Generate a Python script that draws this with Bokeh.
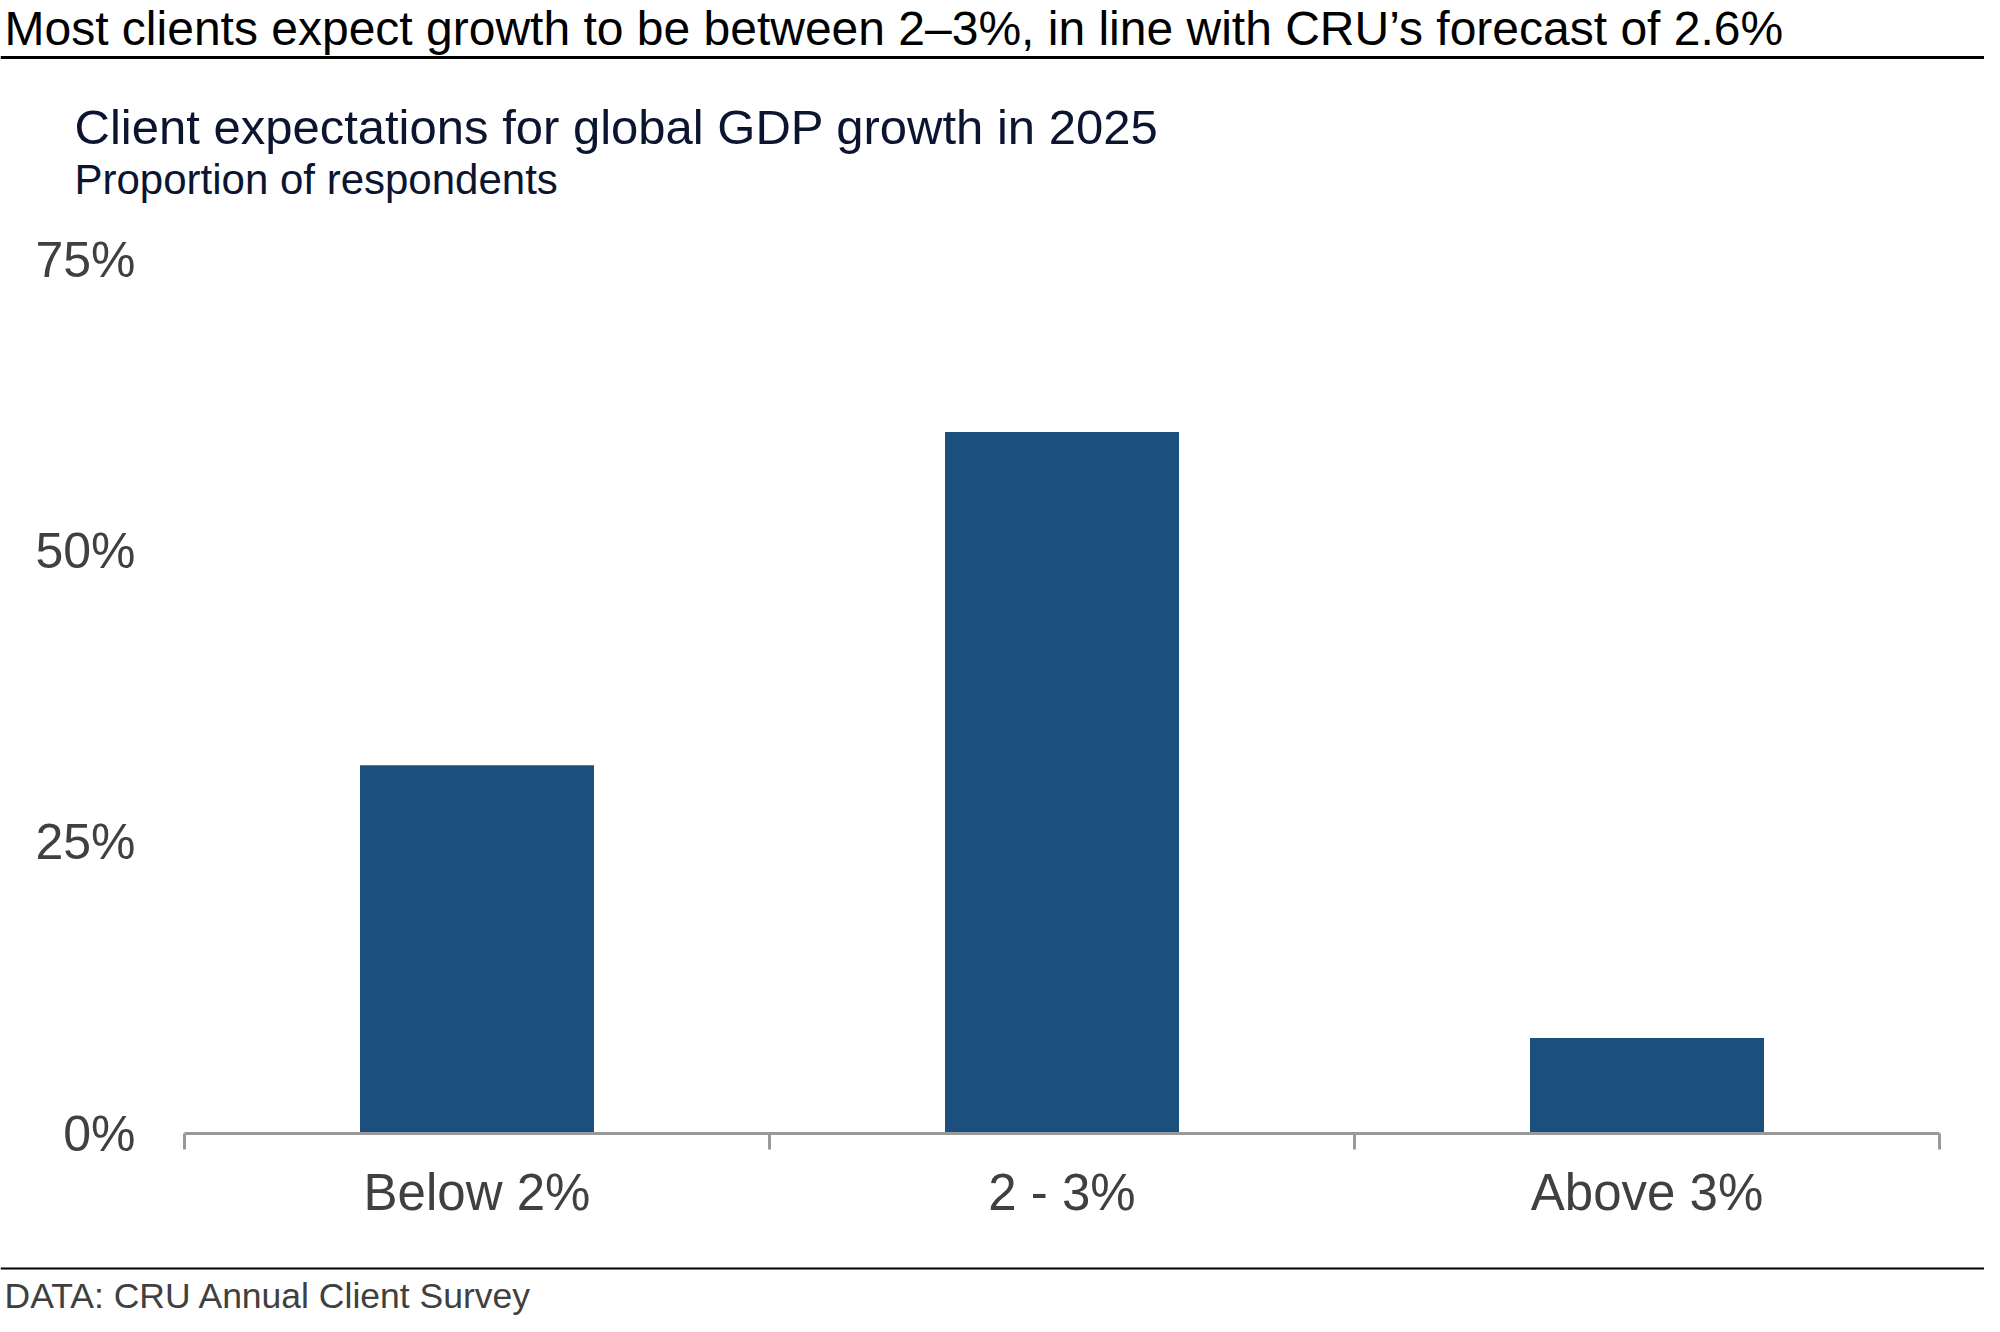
from bokeh.plotting import figure
from bokeh.models import Range1d, FixedTicker, PrintfTickFormatter, Label, Span
from bokeh.embed import file_html
from bokeh.resources import INLINE

# ---- data ----
categories = ["Below 2%", "2 - 3%", "Above 3%"]
values = [31.6, 60.2, 8.2]
y_ticks = [0, 25, 50, 75]

title_text = "Most clients expect growth to be between 2\u20133%, in line with CRU\u2019s forecast of 2.6%"
subtitle_text = "Client expectations for global GDP growth in 2025"
unit_text = "Proportion of respondents"
source_text = "DATA: CRU Annual Client Survey"

FONT = "Liberation Sans"
BAR = "#1b507e"
AXIS = "#999999"
LABEL = "#404040"
NAVY = "#0b1530"

W = 1984
H_HEAD = 230
H_MAIN = 1010
H_FOOT = 76


def panel(h):
    f = figure(width=W, height=h, output_backend="svg", toolbar_location=None,
               x_range=Range1d(0, W), y_range=Range1d(h, 0),
               x_axis_location=None, y_axis_location=None, min_border=0)
    f.outline_line_color = None
    f.xgrid.visible = False
    f.ygrid.visible = False
    return f


def add_text(f, txt, px, py, size, color):
    f.add_layout(Label(x=px, y=py, text=txt, text_font=FONT, text_font_size=size,
                       text_color=color, text_baseline="middle", text_align="left"))


# ---- header ----
head = panel(H_HEAD)
add_text(head, title_text, 4, 28, "48px", "#000000")
head.add_layout(Span(location=57, dimension="width", line_color="#000000", line_width=3))
add_text(head, subtitle_text, 74, 126, "49px", NAVY)
add_text(head, unit_text, 74, 179, "42px", NAVY)

# ---- main chart ----
p = figure(width=W, height=H_MAIN, output_backend="svg", toolbar_location=None,
           x_range=Range1d(0, len(categories)), y_range=Range1d(0, 75),
           min_border_left=184, min_border_right=45,
           min_border_top=29, min_border_bottom=107)
p.outline_line_color = None
p.xgrid.visible = False
p.ygrid.visible = False

xs = [i + 0.5 for i in range(len(categories))]
p.vbar(x=xs, top=values, bottom=0, width=0.4, fill_color=BAR, line_color=None)

xa = p.xaxis[0]
xa.ticker = FixedTicker(ticks=xs, minor_ticks=list(range(len(categories) + 1)))
xa.major_label_overrides = {x: c for x, c in zip(xs, categories)}
xa.axis_line_color = AXIS
xa.axis_line_width = 3
xa.major_tick_line_color = None
xa.major_tick_out = 0
xa.major_tick_in = 0
xa.minor_tick_line_color = AXIS
xa.minor_tick_line_width = 3
xa.minor_tick_out = 16
xa.minor_tick_in = 0
xa.major_label_text_font = FONT
xa.major_label_text_font_size = "51px"
xa.major_label_text_color = LABEL
xa.major_label_standoff = 14

ya = p.yaxis[0]
ya.ticker = FixedTicker(ticks=y_ticks, minor_ticks=[])
ya.formatter = PrintfTickFormatter(format="%d%%")
ya.axis_line_color = None
ya.major_tick_line_color = None
ya.minor_tick_line_color = None
ya.major_tick_out = 0
ya.major_tick_in = 0
ya.major_label_text_font = FONT
ya.major_label_text_font_size = "50px"
ya.major_label_text_color = LABEL
ya.major_label_standoff = 49

# ---- footer ----
foot = panel(H_FOOT)
foot.add_layout(Span(location=28, dimension="width", line_color="#000000", line_width=2))
add_text(foot, source_text, 4, 55, "35.5px", LABEL)

open("out.html", "w").write(file_html([head, p, foot], INLINE))
